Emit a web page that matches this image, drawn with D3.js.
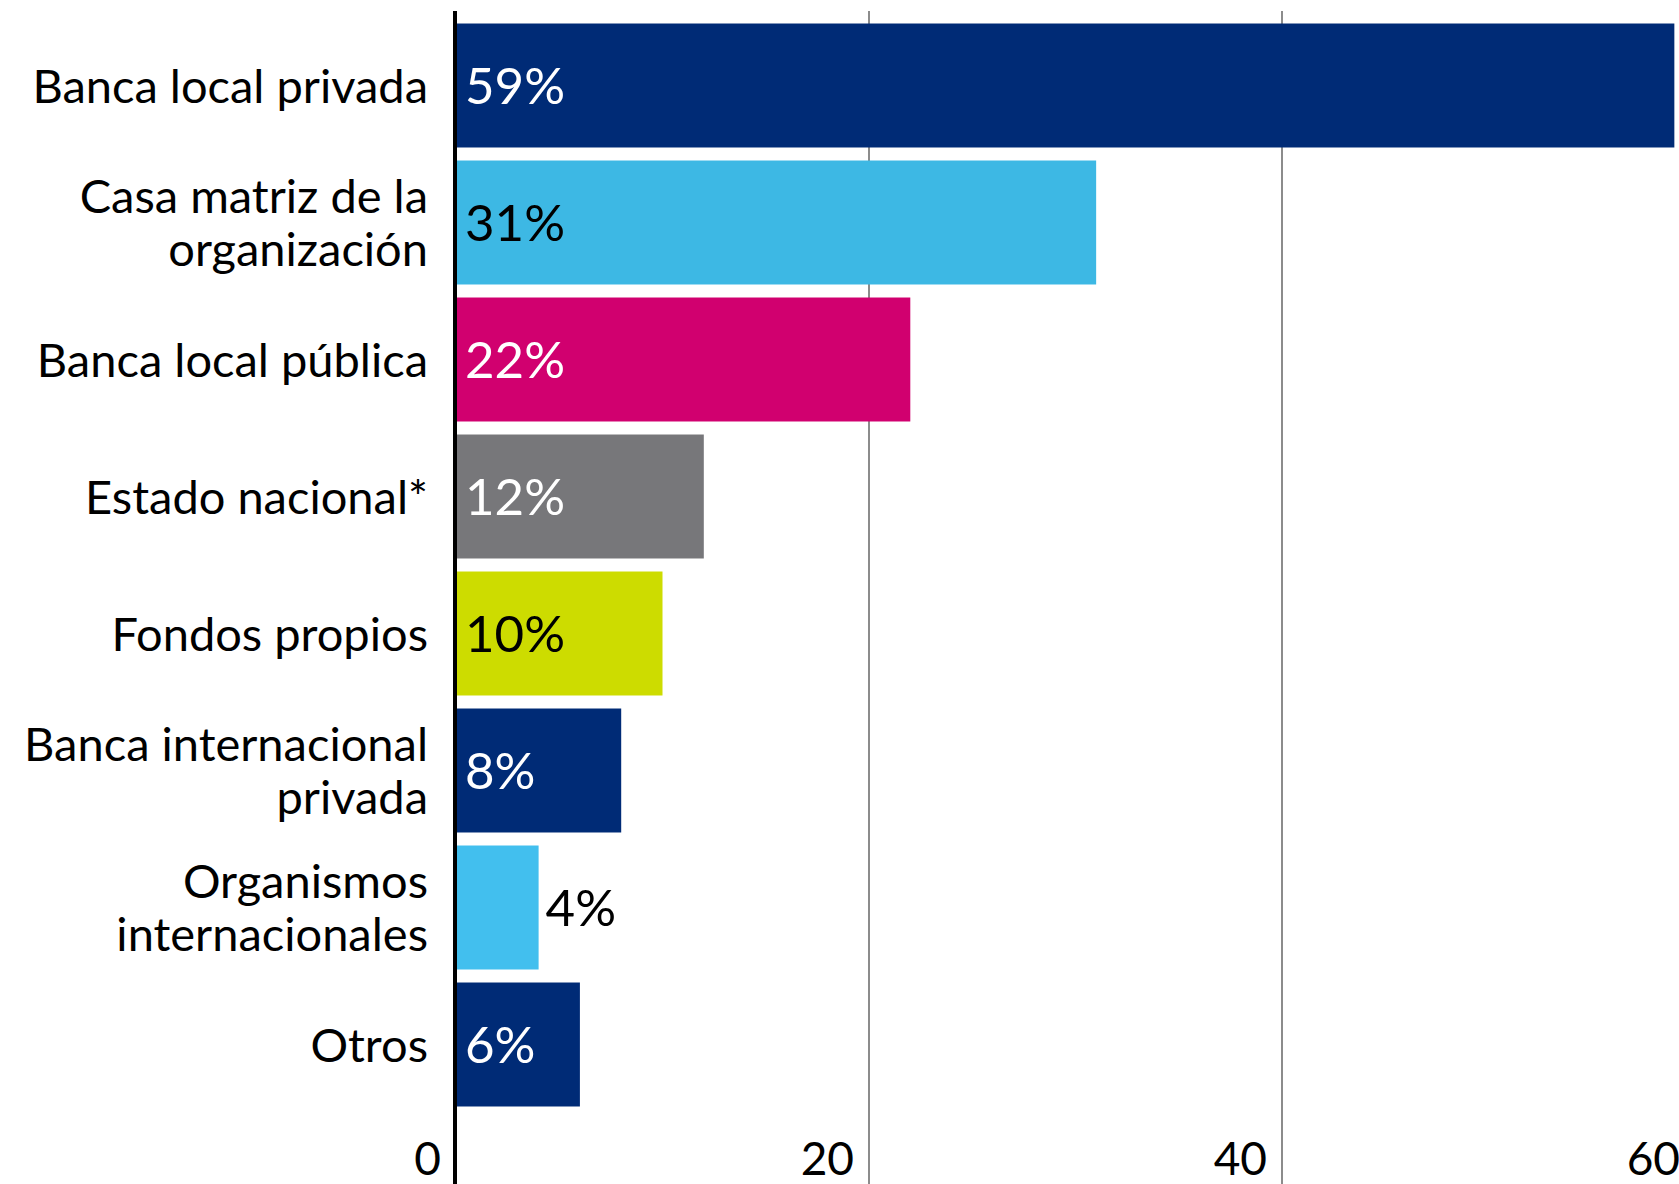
<!DOCTYPE html>
<html>
<head>
<meta charset="utf-8">
<script src="https://cdn.jsdelivr.net/npm/d3@7"></script>
<style>
  html, body { margin: 0; padding: 0; background: #fff; }
  svg { display: block; font-family: Lato, "Noto Sans", sans-serif; }
</style>
</head>
<body>
<div id="chart"></div>
<script>
// categories (line breaks where the original wraps) and their shares in %
const categories = [
  "Banca local privada",
  "Casa matriz de la\norganización",
  "Banca local pública",
  "Estado nacional*",
  "Fondos propios",
  "Banca internacional\nprivada",
  "Organismos\ninternacionales",
  "Otros"
]
const values = [59, 31, 22, 12, 10, 8, 4, 6]
const xTicks = [0, 20, 40, 60]

// bar colours, one per category
const palette = ["#002b76", "#3db8e4", "#d1006f", "#77777a", "#cddc00", "#002b76", "#42bfee", "#002b76"]

const W = 1679, H = 1184

const svg = d3.select("#chart").append("svg")
  .attr("width", W).attr("height", H)

const rows = categories.map((c, i) => ({ cat: c, value: values[i], color: palette[i] }))

// x: 0 sits on the axis line, 60 just past the right edge
const x = d3.scaleLinear().domain([0, 60]).range([456, 1695])
const y = d3.scaleBand().domain(categories).range([17, 1113])
  .paddingInner(0.095).paddingOuter(0.0475)

// vertical gridlines
svg.selectAll(".grid")
  .data(xTicks.filter(d => d > 0))
  .join("line")
  .attr("class", "grid")
  .attr("x1", d => x(d)).attr("x2", d => x(d))
  .attr("y1", 11).attr("y2", H)
  .attr("stroke", "#8c8c8c").attr("stroke-width", 2)

// bars
svg.selectAll(".bar")
  .data(rows)
  .join("rect")
  .attr("class", "bar")
  .attr("x", x(0))
  .attr("y", d => y(d.cat))
  .attr("width", d => x(d.value) - x(0))
  .attr("height", y.bandwidth())
  .attr("fill", d => d.color)

// axis line at 0
svg.append("line")
  .attr("x1", x(0) - 1).attr("x2", x(0) - 1)
  .attr("y1", 11).attr("y2", H)
  .attr("stroke", "#000").attr("stroke-width", 4)

// tick labels sit to the left of each gridline, at the bottom
svg.selectAll(".tick-label")
  .data(xTicks)
  .join("text")
  .attr("class", "tick-label")
  .attr("x", d => x(d) - 15)
  .attr("y", 1175)
  .attr("text-anchor", "end")
  .style("font-size", "46px").style("fill", "#000")
  .text(d => d)

// category labels, possibly on two lines
const lineH = 53
svg.selectAll(".cat-label")
  .data(rows)
  .join("text")
  .attr("class", "cat-label")
  .attr("text-anchor", "end")
  .style("font-size", "47px").style("fill", "#000")
  .each(function(d) {
    const lines = d.cat.split("\n")
    const cy = y(d.cat) + y.bandwidth() / 2
    const first = cy + 17 - (lines.length - 1) * lineH / 2
    d3.select(this).selectAll("tspan")
      .data(lines)
      .join("tspan")
      .attr("x", 428)
      .attr("y", (l, i) => first + i * lineH)
      .text(l => l)
  })

// value labels: inside the bar unless the bar is too short
svg.selectAll(".val-label")
  .data(rows)
  .join("text")
  .attr("class", "val-label")
  .style("font-size", "51px")
  .attr("y", d => y(d.cat) + y.bandwidth() / 2 + 18)
  .text(d => d.value + "%")
  .each(function(d) {
    const w = this.getComputedTextLength()
    const barW = x(d.value) - x(0)
    const inside = barW > w + 30
    d3.select(this)
      .attr("x", inside ? x(0) + 9 : x(d.value) + 7)
      .style("fill", inside ? (d3.lab(d.color).l > 60 ? "#000" : "#fff") : "#000")
  })
</script>
</body>
</html>
